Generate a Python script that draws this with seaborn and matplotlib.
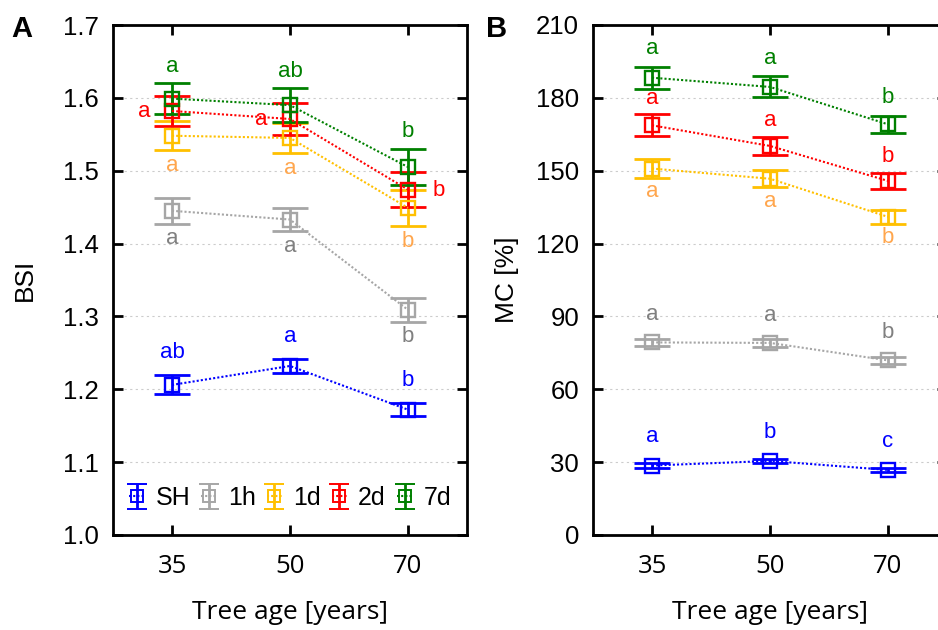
import numpy as np
import pandas as pd
import matplotlib
matplotlib.use('Agg')
import matplotlib.pyplot as plt
import seaborn as sns

# --- data ---
ages = ['35', '50', '70']
series = ['SH', '1h', '1d', '2d', '7d']

# panel A: BSI (mean, error)
bsi_mean = {
    'SH': [1.206, 1.232, 1.172],
    '1h': [1.445, 1.433, 1.309],
    '1d': [1.548, 1.545, 1.449],
    '2d': [1.582, 1.571, 1.474],
    '7d': [1.599, 1.590, 1.505],
}
bsi_err = {
    'SH': [0.013, 0.009, 0.009],
    '1h': [0.018, 0.016, 0.016],
    '1d': [0.020, 0.021, 0.025],
    '2d': [0.021, 0.022, 0.024],
    '7d': [0.021, 0.023, 0.025],
}
bsi_letters = {
    'SH': ['ab', 'a', 'b'],
    '1h': ['a', 'a', 'b'],
    '1d': ['a', 'a', 'b'],
    '2d': ['a', 'a', 'b'],
    '7d': ['a', 'ab', 'b'],
}

# panel B: MC [%] (mean, error)
mc_mean = {
    'SH': [28.6, 30.5, 26.8],
    '1h': [79.3, 79.1, 71.9],
    '1d': [150.9, 146.7, 131.0],
    '2d': [168.7, 160.2, 145.8],
    '7d': [188.3, 184.5, 169.1],
}
mc_err = {
    'SH': [0.9, 0.7, 0.7],
    '1h': [1.6, 1.6, 1.6],
    '1d': [3.8, 3.5, 2.8],
    '2d': [4.6, 3.8, 3.4],
    '7d': [4.5, 4.3, 3.5],
}
mc_letters = {
    'SH': ['a', 'b', 'c'],
    '1h': ['a', 'a', 'b'],
    '1d': ['a', 'a', 'b'],
    '2d': ['a', 'a', 'b'],
    '7d': ['a', 'a', 'b'],
}

# --- styling ---
line_colors = {'SH': '#0000ff', '1h': '#a6a6a6', '1d': '#ffc000', '2d': '#ff0000', '7d': '#008000'}
letter_colors = {'SH': '#0000ff', '1h': '#808080', '1d': '#ffa64d', '2d': '#ff0000', '7d': '#008000'}

# where each letter sits: (anchor, dx px, dy px) per point
spots_a = {
    'SH': [('top', 0, 23)] * 3,
    '1h': [('bottom', 0, -15)] * 3,
    '1d': [('bottom', 0, -15)] * 3,
    '2d': [('mid', -28, -1), ('mid', -29, -1), ('mid', 31, -1)],
    '7d': [('top', 0, 17)] * 3,
}
spots_b = {
    'SH': [('top', 0, 27)] * 3,
    '1h': [('top', 0, 24)] * 3,
    '1d': [('bottom', 0, -14)] * 3,
    '2d': [('top', 0, 16)] * 3,
    '7d': [('top', 0, 18)] * 3,
}

sns.set_style('ticks')
plt.rcParams['font.family'] = ['Liberation Sans', 'DejaVu Sans']
plt.rcParams.update({'text.color': 'black', 'axes.labelcolor': 'black',
                     'xtick.color': 'black', 'ytick.color': 'black'})

W, H = 938, 630
fig = plt.figure(figsize=(W / 100, H / 100), dpi=100)
ax_a = fig.add_axes([113 / W, 95 / H, 354 / W, 510 / H])
ax_b = fig.add_axes([593 / W, 95 / H, 354 / W, 510 / H])

dotted = (0, (1, 1))
xfont = ['Open Sans', 'DejaVu Sans']


def draw_panel(ax, means, errs, letters, spots):
    pos = np.arange(len(ages))
    for s in series:
        c = line_colors[s]
        df = pd.DataFrame({'pos': pos, 'value': means[s]})
        sns.lineplot(data=df, x='pos', y='value', color=c, lw=1.5, linestyle=dotted,
                     marker='s', markersize=10, markerfacecolor='none',
                     markeredgecolor=c, markeredgewidth=1.7, ax=ax, zorder=3)
        ax.errorbar(pos, means[s], yerr=errs[s], fmt='none', ecolor=c,
                    elinewidth=2, capsize=13, capthick=2, zorder=2)
        for i in range(len(ages)):
            anchor, dx, dy = spots[s][i]
            y = means[s][i]
            if anchor == 'top':
                y = y + errs[s][i]
            elif anchor == 'bottom':
                y = y - errs[s][i]
            ax.annotate(letters[s][i], xy=(pos[i], y), xytext=(dx, dy),
                        textcoords='offset pixels', ha='center', va='center',
                        fontsize=16, color=letter_colors[s])
    ax.set_xlim(-0.5, 2.5)
    ax.set_xticks(pos)
    ax.set_xticklabels(ages, family=xfont, fontsize=19)
    ax.grid(axis='y', color='#cccccc', linestyle=(0, (2, 3)), lw=0.8)
    ax.set_axisbelow(True)
    for sp in ax.spines.values():
        sp.set_linewidth(2)
        sp.set_color('black')
    ax.tick_params(axis='both', direction='in', length=7, width=2, labelsize=18.5,
                   top=True, right=True, colors='black')
    ax.tick_params(axis='x', pad=14)
    ax.tick_params(axis='y', pad=10)
    ax.set_xlabel('Tree age [years]', fontsize=19, family=xfont, color='black')
    ax.xaxis.set_label_coords(0.5, -0.128)


draw_panel(ax_a, bsi_mean, bsi_err, bsi_letters, spots_a)
ax_a.set_ylim(1.0, 1.7)
ax_a.set_yticks(np.round(np.arange(1.0, 1.71, 0.1), 1))
ax_a.set_yticklabels([f'{v:.1f}' for v in np.arange(1.0, 1.71, 0.1)])
ax_a.set_ylabel('BSI', fontsize=19, color='black')
ax_a.yaxis.set_label_coords(-0.215, 0.5)

draw_panel(ax_b, mc_mean, mc_err, mc_letters, spots_b)
ax_b.set_ylim(0, 210)
ax_b.set_yticks(np.arange(0, 211, 30))
ax_b.set_ylabel('MC [%]', fontsize=19, color='black')
ax_b.yaxis.set_label_coords(-0.208, 0.5)

# legend handles in the style of the markers
handles = []
for s in series:
    c = line_colors[s]
    h = ax_a.errorbar([np.nan], [np.nan], yerr=[1], fmt='s', linestyle=dotted, color=c,
                      markersize=8, markerfacecolor='none', markeredgewidth=1.4,
                      elinewidth=2, capsize=7, capthick=2, label=s)
    handles.append(h)
leg = ax_a.legend(handles=handles, labels=series, loc='lower center', ncol=5, frameon=False,
                  fontsize=18, handlelength=0.6, handletextpad=0.45, columnspacing=0.45,
                  bbox_to_anchor=(0.5, 0.005))
for t in leg.get_texts():
    t.set_color('black')

fig.text(22 / W, 1 - 29 / H, 'A', fontsize=21, fontweight='bold', ha='center', va='center')
fig.text(497 / W, 1 - 29 / H, 'B', fontsize=21, fontweight='bold', ha='center', va='center')

fig.savefig('out.png', dpi=100)
